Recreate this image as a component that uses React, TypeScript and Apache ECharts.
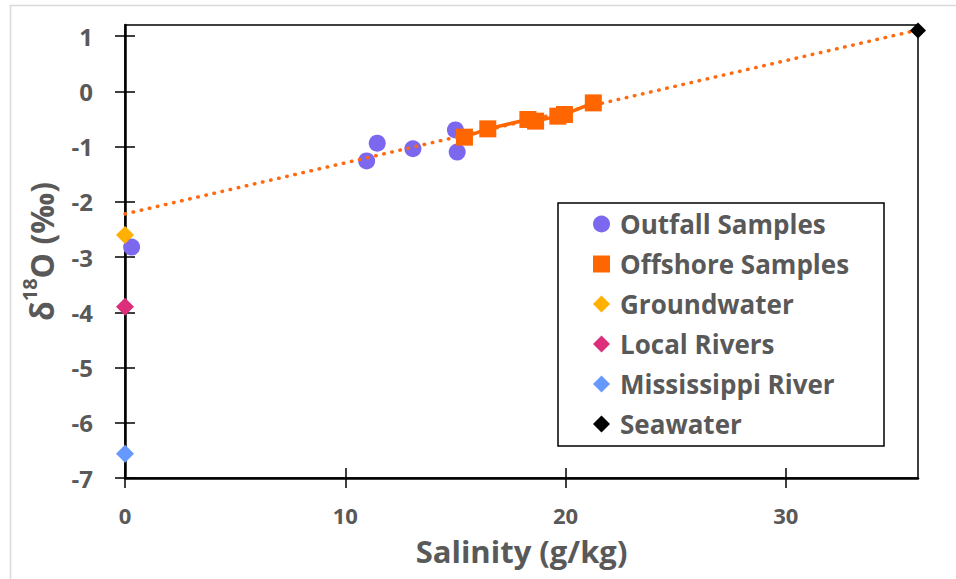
import { useEffect, useRef } from 'react';
import * as echarts from 'echarts';

const outfallSalinity = [0.3, 10.97, 11.45, 13.07, 15.0, 15.08];
const outfallD18O = [-2.82, -1.26, -0.94, -1.04, -0.7, -1.1];
const offshoreSalinity = [15.41, 16.47, 18.29, 18.64, 19.65, 19.95, 21.26];
const offshoreD18O = [-0.83, -0.68, -0.51, -0.54, -0.45, -0.42, -0.21];
const groundwaterPt = [0, -2.6];
const localRiversPt = [0, -3.9];
const mississippiPt = [0, -6.56];
const seawaterPt = [36, 1.1];
const trendSalinity = [0, 36];
const trendD18O = [-2.22, 1.11];
const xTickValues = [0, 10, 20, 30];
const yTickValues = [-7, -6, -5, -4, -3, -2, -1, 0, 1];
const seriesNames = ['Outfall Samples', 'Offshore Samples', 'Groundwater', 'Local Rivers', 'Mississippi River', 'Seawater'];

const FONT = 'Open Sans';
const GRAY = '#595959';

export default function App() {
  const ref = useRef<HTMLDivElement>(null);
  useEffect(() => {
    if (!ref.current) return;
    const chart = echarts.init(ref.current, null, { renderer: 'svg' });
    const labelStyle = { fontFamily: FONT, fontWeight: 'bold' as const, fontSize: 24, color: GRAY };
    const xBase = { type: 'value' as const, min: 0, max: 36, interval: 10, splitLine: { show: false } };
    const yBase = { type: 'value' as const, min: -7, max: 1.2, interval: 1, splitLine: { show: false } };
    const solid = { opacity: 1 };
    chart.setOption({
      animation: false,
      backgroundColor: '#fff',
      grid: { left: 125, top: 25, right: 38, bottom: 101, show: true, borderColor: '#000', borderWidth: 1.5 },
      xAxis: [
        {
          ...xBase,
          axisLine: { show: true, onZero: false, lineStyle: { color: '#000', width: 2.5 } },
          axisTick: { show: true, length: 10, customValues: xTickValues, lineStyle: { color: '#000', width: 1.5 } },
          axisLabel: { ...labelStyle, fontSize: 22, margin: 28, lineHeight: 18, customValues: xTickValues },
          name: 'Salinity (g/kg)',
          nameLocation: 'middle',
          nameGap: 60,
          nameTextStyle: { fontFamily: FONT, fontWeight: 'bold', fontSize: 31, color: GRAY, lineHeight: 26 },
        },
        {
          ...xBase,
          position: 'bottom',
          axisLine: { show: false, onZero: false },
          axisTick: { show: true, inside: true, length: 10, customValues: xTickValues, lineStyle: { color: '#000', width: 1.5 } },
          axisLabel: { show: false },
        },
      ],
      yAxis: [
        {
          ...yBase,
          axisLine: { show: true, onZero: false, lineStyle: { color: '#000', width: 2.5 } },
          axisTick: { show: true, length: 10, customValues: yTickValues, lineStyle: { color: '#000', width: 1.5 } },
          axisLabel: { ...labelStyle, margin: 32, customValues: yTickValues },
          name: '{n|δ}{s|18}{n|O (‰)}',
          nameLocation: 'middle',
          nameGap: 68,
          nameRotate: 90,
          nameTextStyle: {
            rich: {
              n: { fontFamily: FONT, fontWeight: 'bold', fontSize: 32, color: GRAY, lineHeight: 40, verticalAlign: 'bottom' },
              s: { fontFamily: FONT, fontWeight: 'bold', fontSize: 20, color: GRAY, lineHeight: 40, verticalAlign: 'top', padding: [2, 0, 0, 0] },
            },
          },
        },
        {
          ...yBase,
          position: 'left',
          axisLine: { show: false, onZero: false },
          axisTick: { show: true, inside: true, length: 10, customValues: yTickValues, lineStyle: { color: '#000', width: 1.5 } },
          axisLabel: { show: false },
        },
      ],
      legend: {
        orient: 'vertical',
        left: 593,
        top: 209,
        itemWidth: 17,
        itemHeight: 17,
        itemGap: 10,
        padding: 0,
        textStyle: { fontFamily: FONT, fontWeight: 'bold', fontSize: 26, color: GRAY, lineHeight: 30, padding: [0, 0, 0, 5] },
        data: [
          { name: seriesNames[0], icon: 'circle' },
          { name: seriesNames[1], icon: 'rect' },
          { name: seriesNames[2], icon: 'diamond' },
          { name: seriesNames[3], icon: 'diamond' },
          { name: seriesNames[4], icon: 'diamond' },
          { name: seriesNames[5], icon: 'diamond' },
        ],
      },
      graphic: [
        { type: 'rect', shape: { x: 10.5, y: 5.5, width: 1000, height: 1000 }, style: { fill: 'none', stroke: '#d9d9d9', lineWidth: 1.5 }, silent: true, z: -10 },
        { type: 'rect', shape: { x: 558, y: 203, width: 326, height: 243 }, style: { fill: '#fff', stroke: '#000', lineWidth: 1.5 }, silent: true, z: 0 },
      ],
      series: [
        {
          name: seriesNames[0],
          type: 'scatter',
          symbol: 'circle',
          symbolSize: 17,
          itemStyle: { color: '#7B68EE', ...solid },
          data: outfallSalinity.map((x, i) => [x, outfallD18O[i]]),
          z: 2,
        },
        {
          name: 'trend',
          type: 'line',
          symbol: 'none',
          data: trendSalinity.map((x, i) => [x, trendD18O[i]]),
          lineStyle: { color: '#FF6A10', width: 3.5, type: [0.5, 7.8], cap: 'round' },
          z: 3,
        },
        {
          name: seriesNames[1],
          type: 'line',
          symbol: 'rect',
          symbolSize: 17,
          showAllSymbol: true,
          itemStyle: { color: '#FF6600', ...solid },
          lineStyle: { color: '#FF6600', width: 3.5 },
          data: offshoreSalinity.map((x, i) => [x, offshoreD18O[i]]),
          z: 4,
        },
        { name: seriesNames[2], type: 'scatter', symbol: 'diamond', symbolSize: 18, itemStyle: { color: '#FFB000', ...solid }, data: [groundwaterPt], z: 5 },
        { name: seriesNames[3], type: 'scatter', symbol: 'diamond', symbolSize: 18, itemStyle: { color: '#DD2E7C', ...solid }, data: [localRiversPt], z: 5 },
        { name: seriesNames[4], type: 'scatter', symbol: 'diamond', symbolSize: 18, itemStyle: { color: '#6699FF', ...solid }, data: [mississippiPt], z: 5 },
        { name: seriesNames[5], type: 'scatter', symbol: 'diamond', symbolSize: 16, itemStyle: { color: '#000', ...solid }, data: [seawaterPt], z: 5 },
      ],
    });
    return () => chart.dispose();
  }, []);
  return <div ref={ref} style={{ position: 'fixed', left: 0, top: 0, width: 956, height: 579, background: '#fff' }} />;
}
